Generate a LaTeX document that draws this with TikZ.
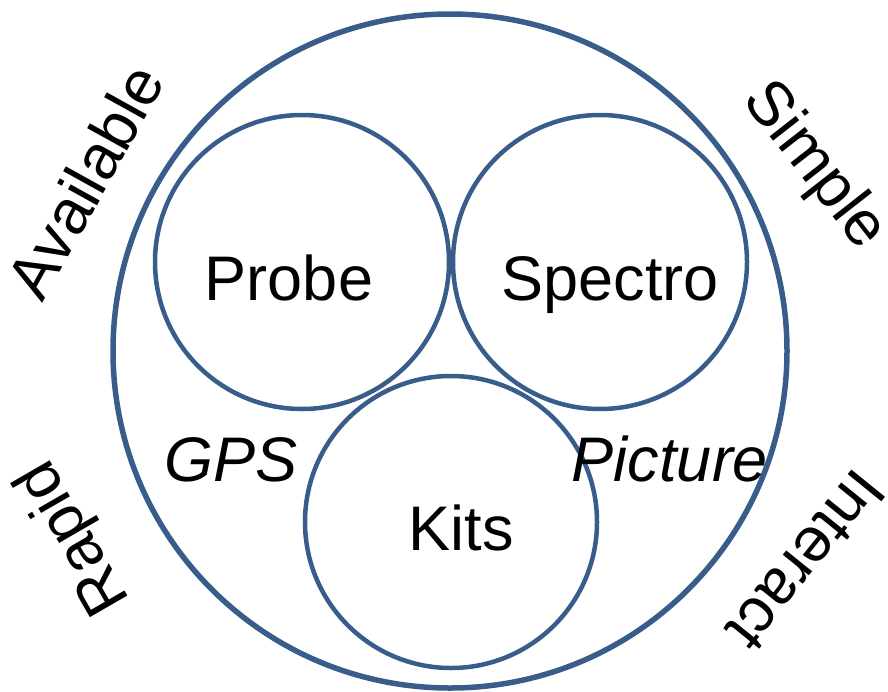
\documentclass[tikz,border=0pt]{standalone}
\usepackage{fontspec}
\setmainfont{Liberation Sans}
\definecolor{ringblue}{RGB}{56,93,138}
\begin{document}
\begin{tikzpicture}[x=1pt,y=-1pt,
		ring/.style={draw=ringblue,circle,inner sep=0pt},
		word/.style={font=\fontsize{63}{70}\selectfont,inner sep=0pt},
		side/.style={word,anchor=center}]
		\useasboundingbox (0,0) rectangle (888,691);
		% Rings
		\node[ring,line width=5.5pt,minimum size=674pt] (outer) at (450,351) {};
		\node[ring,line width=4.5pt,minimum size=294pt] (probe) at (302,262) {};
		\node[ring,line width=4.5pt,minimum size=294pt] (spectro) at (600,262) {};
		\node[ring,line width=4.5pt,minimum size=292pt] (kits) at (451,522) {};
		% Inner words
		\node[word,anchor=base] (probetxt) at (289,300) {Probe};
		\node[word,anchor=base] (spectrotxt) at (610,300) {Spectro};
		\node[word,anchor=base] (kitstxt) at (461,550) {Kits};
		\node[word,anchor=base,font=\fontsize{63}{70}\selectfont\itshape] (gps) at (231,481) {GPS};
		\node[word,anchor=base,font=\fontsize{63}{70}\selectfont\itshape] (picture) at (670,481) {Picture};
		% Outer words
		\node[side,rotate=61] (available) at (85,181) {Available};
		\node[side,rotate=-52] (simple) at (814,166) {Simple};
		\node[side,rotate=120] (rapid) at (75,537) {Rapid};
		\node[side,rotate=-129] (interact) at (806,561) {Interact};
	\end{tikzpicture}
\end{document}
